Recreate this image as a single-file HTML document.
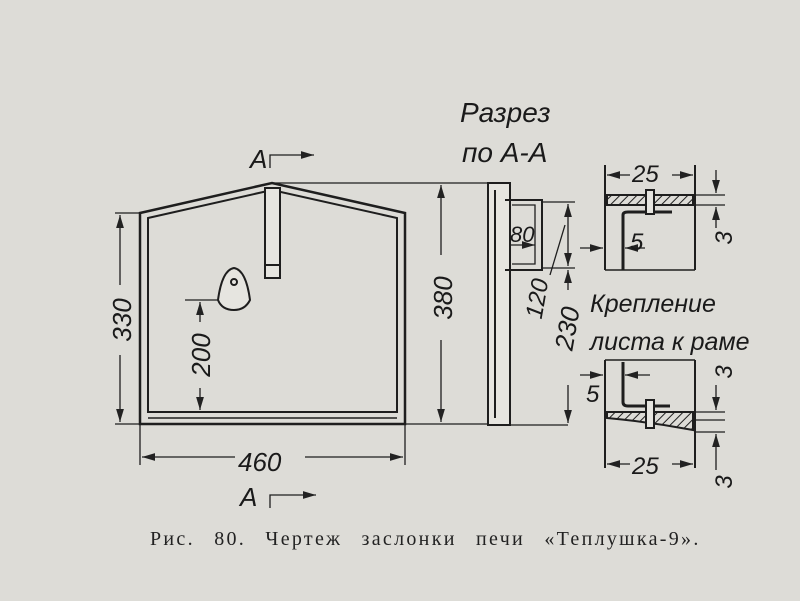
<!DOCTYPE html>
<html><head><meta charset="utf-8"><style>
html,body{margin:0;padding:0;background:#dddcd7;}
svg{display:block}
.t{font-family:"Liberation Sans",sans-serif;font-style:italic;fill:#1a1a1a}
.c{font-family:"Liberation Serif",serif;fill:#222}
</style></head><body>
<svg width="800" height="601" viewBox="0 0 800 601" xmlns="http://www.w3.org/2000/svg">
<rect width="800" height="601" fill="#dddcd7"/>
<defs>
<marker id="a" markerWidth="10" markerHeight="6" refX="10" refY="3" orient="auto-start-reverse"><path d="M0,0 L10,3 L0,6 z" fill="#222"/></marker>
<pattern id="h" width="6" height="6" patternUnits="userSpaceOnUse" patternTransform="rotate(45)"><line x1="0" y1="0" x2="0" y2="6" stroke="#222" stroke-width="2"/></pattern>
</defs>
<g stroke="#1e1e1e" fill="none" stroke-width="2">
<path d="M140,213 L272,183 L405,213 L405,424 L140,424 Z" stroke-width="2.5"/>
<path d="M148,218 L272,190 L397,218 L397,412 L148,412 Z"/>
<line x1="148" y1="418" x2="397" y2="418" stroke-width="1.5"/>
<rect x="265" y="188" width="15" height="90" fill="#e6e5e0"/>
<line x1="265" y1="265" x2="280" y2="265"/>
<path d="M218,300 Q222,270 234,268 Q246,270 250,300 Q245,310 234,310 Q222,310 218,300 Z" fill="#e6e5e0"/>
<circle cx="234" cy="282" r="3"/>
<g stroke-width="1.3">
<line x1="115" y1="213" x2="140" y2="213"/><line x1="115" y1="424" x2="140" y2="424"/>
<line x1="120" y1="215" x2="120" y2="285" marker-start="url(#a)"/><line x1="120" y1="355" x2="120" y2="422" marker-end="url(#a)"/>
<line x1="272" y1="183" x2="490" y2="183"/><line x1="405" y1="424" x2="490" y2="424"/>
<line x1="441" y1="185" x2="441" y2="255" marker-start="url(#a)"/><line x1="441" y1="340" x2="441" y2="422" marker-end="url(#a)"/>
<line x1="185" y1="300" x2="218" y2="300"/>
<line x1="200" y1="302" x2="200" y2="322" marker-start="url(#a)"/><line x1="200" y1="388" x2="200" y2="410" marker-end="url(#a)"/>
<line x1="140" y1="424" x2="140" y2="465"/><line x1="405" y1="424" x2="405" y2="465"/>
<line x1="142" y1="457" x2="235" y2="457" marker-start="url(#a)"/><line x1="305" y1="457" x2="403" y2="457" marker-end="url(#a)"/>
<path d="M270,168 L270,155 L314,155" marker-end="url(#a)"/>
<path d="M270,508 L270,495 L316,495" marker-end="url(#a)"/>
</g>
<rect x="488" y="183" width="22" height="242" fill="#e6e5e0"/>
<line x1="495" y1="190" x2="495" y2="418"/>
<path d="M505,200 L542,200 L542,270 L505,270"/>
<path d="M512,205 L535,205 L535,264 L512,264" stroke-width="1.3"/>
<g stroke-width="1.3">
<line x1="510" y1="245" x2="535" y2="245" marker-end="url(#a)"/>
<line x1="542" y1="202" x2="575" y2="202"/><line x1="542" y1="268" x2="575" y2="268"/>
<line x1="568" y1="204" x2="568" y2="240" marker-start="url(#a)"/><line x1="568" y1="240" x2="568" y2="266" marker-end="url(#a)"/>
<line x1="565" y1="225" x2="550" y2="275"/>
<line x1="510" y1="425" x2="568" y2="425"/>
<line x1="568" y1="270" x2="568" y2="290" marker-start="url(#a)"/><line x1="568" y1="385" x2="568" y2="423" marker-end="url(#a)"/>
</g>
<line x1="605" y1="165" x2="605" y2="270"/><line x1="695" y1="165" x2="695" y2="270"/>
<line x1="605" y1="270" x2="695" y2="270" stroke-width="1.5"/>
<rect x="607" y="195" width="86" height="10" fill="url(#h)"/>
<path d="M623,270 L623,215 Q623,212 628,212 L672,212" stroke-width="3"/>
<rect x="646" y="190" width="8" height="24" fill="#e6e5e0"/>
<g stroke-width="1.3">
<line x1="607" y1="175" x2="630" y2="175" marker-start="url(#a)"/><line x1="672" y1="175" x2="693" y2="175" marker-end="url(#a)"/>
<line x1="695" y1="195" x2="725" y2="195"/><line x1="695" y1="205" x2="725" y2="205"/>
<line x1="716" y1="170" x2="716" y2="193" marker-end="url(#a)"/><line x1="716" y1="228" x2="716" y2="207" marker-end="url(#a)"/>
<line x1="580" y1="248" x2="603" y2="248" marker-end="url(#a)"/>
<line x1="625" y1="248" x2="645" y2="248" marker-start="url(#a)"/>
</g>
<line x1="605" y1="360" x2="605" y2="468"/><line x1="695" y1="360" x2="695" y2="468"/>
<line x1="605" y1="360" x2="695" y2="360" stroke-width="1.5"/>
<path d="M607,412 L693,412 L693,430 Q650,422 607,418 Z" fill="url(#h)"/>
<path d="M623,362 L623,402 Q623,406 628,406 L670,406" stroke-width="3"/>
<rect x="646" y="400" width="8" height="28" fill="#e6e5e0"/>
<g stroke-width="1.3">
<line x1="607" y1="464" x2="630" y2="464" marker-start="url(#a)"/><line x1="672" y1="464" x2="693" y2="464" marker-end="url(#a)"/>
<line x1="695" y1="412" x2="725" y2="412"/><line x1="695" y1="420" x2="725" y2="420"/><line x1="695" y1="432" x2="725" y2="432"/>
<line x1="716" y1="385" x2="716" y2="410" marker-end="url(#a)"/><line x1="716" y1="470" x2="716" y2="434" marker-end="url(#a)"/>
<line x1="580" y1="375" x2="603" y2="375" marker-end="url(#a)"/>
<line x1="625" y1="375" x2="650" y2="375" marker-start="url(#a)"/>
</g>
</g>
<g class="t">
<text x="460" y="122" font-size="28">Разрез</text>
<text x="462" y="162" font-size="28">по А-А</text>
<text x="250" y="168" font-size="26">А</text>
<text x="240" y="506" font-size="26">А</text>
<text x="238" y="471" font-size="26">460</text>
<text transform="translate(131,320) rotate(-90)" text-anchor="middle" font-size="26">330</text>
<text transform="translate(452,298) rotate(-90)" text-anchor="middle" font-size="26">380</text>
<text transform="translate(210,355) rotate(-90)" text-anchor="middle" font-size="26">200</text>
<text x="510" y="242" font-size="22">80</text>
<text transform="translate(545,300) rotate(-80)" text-anchor="middle" font-size="24">120</text>
<text transform="translate(576,330) rotate(-80)" text-anchor="middle" font-size="26">230</text>
<text x="632" y="182" font-size="24">25</text>
<text x="630" y="250" font-size="24">5</text>
<text transform="translate(732,238) rotate(-90)" text-anchor="middle" font-size="24">3</text>
<text x="590" y="312" font-size="25">Крепление</text>
<text x="590" y="350" font-size="25">листа к раме</text>
<text x="586" y="402" font-size="24">5</text>
<text transform="translate(732,372) rotate(-90)" text-anchor="middle" font-size="24">3</text>
<text x="632" y="474" font-size="24">25</text>
<text transform="translate(732,482) rotate(-90)" text-anchor="middle" font-size="24">3</text>
</g>
<text class="c" x="150" y="545" font-size="20" letter-spacing="2.3" word-spacing="12">Рис. 80. Чертеж заслонки печи «Теплушка-9».</text>
</svg>
</body></html>
